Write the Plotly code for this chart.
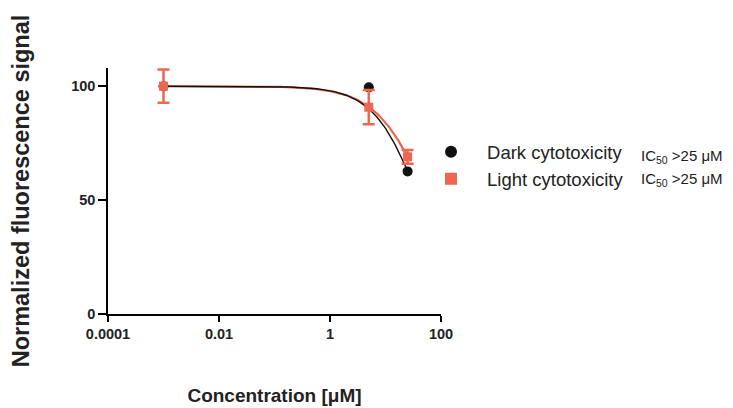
import numpy as np
import plotly.graph_objects as go

# measured points
conc = [0.001, 5, 25]
dark_signal = [100, 99.5, 62.6]
dark_err = [0, 0, 0]
light_signal = [100, 90.8, 69.0]
light_err = [7.3, 7.5, 3.0]

# fitted dose-response parameters
dark_fit = dict(top=100, ic50=41.0, hill=1.05)
light_fit = dict(top=100, ic50=58.5, hill=0.94)

series_names = ["Dark cytotoxicity", "Light cytotoxicity"]
ic50_labels = ["IC<sub>50</sub> >25 \u03bcM", "IC<sub>50</sub> >25 \u03bcM"]

RED = "#EC6650"
BLACK = "#111111"
FONT = "Liberation Sans, Arial, sans-serif"


def hill_curve(x, top, ic50, hill):
    return top / (1 + (x / ic50) ** hill)


x_fit = np.logspace(np.log10(conc[0]), np.log10(conc[-1]), 200)

fig = go.Figure()

fig.add_trace(go.Scatter(
    x=x_fit, y=hill_curve(x_fit, **light_fit), mode="lines",
    line=dict(color=RED, width=2.2), showlegend=False, hoverinfo="skip",
))
fig.add_trace(go.Scatter(
    x=x_fit, y=hill_curve(x_fit, **dark_fit), mode="lines",
    line=dict(color=BLACK, width=1.4), showlegend=False, hoverinfo="skip",
))
fig.add_trace(go.Scatter(
    x=conc, y=dark_signal, mode="markers", name=series_names[0],
    marker=dict(symbol="circle", size=10, color=BLACK),
    error_y=dict(type="data", array=dark_err, visible=False),
))
fig.add_trace(go.Scatter(
    x=conc, y=light_signal, mode="markers", name=series_names[1],
    marker=dict(symbol="square", size=9, color=RED),
    error_y=dict(type="data", array=light_err, color=RED, thickness=2.5, width=6),
))

for i, label in enumerate(ic50_labels):
    fig.add_annotation(
        xref="paper", yref="paper", x=1.595, y=0.64 - i * 0.095,
        text=label, showarrow=False, xanchor="left", yanchor="middle",
        font=dict(size=15, color="#222", family=FONT),
    )

fig.update_layout(
    width=733, height=408,
    margin=dict(l=100, r=300, t=60, b=102),
    paper_bgcolor="white", plot_bgcolor="white",
    font=dict(family=FONT, color="#222"),
    legend=dict(
        x=0.922, y=0.735, xanchor="left", yanchor="top", tracegroupgap=0,
        font=dict(size=18.5, family=FONT, color="#222"),
        bgcolor="rgba(0,0,0,0)", itemsizing="constant", itemwidth=62,
    ),
)
fig.update_xaxes(
    type="log", range=[-4, 2], tickvals=[0.0001, 0.01, 1, 100],
    ticktext=["0.0001", "0.01", "1", "100"], automargin=False,
    showgrid=False, zeroline=False, showline=True, linecolor="black", linewidth=1.5,
    ticks="outside", ticklen=6, tickwidth=1.5, tickcolor="black",
    tickfont=dict(size=14.5, family=FONT, color="#222", weight="bold"),
    title=dict(text="<b>Concentration [\u03bcM]</b>", font=dict(size=19, family=FONT), standoff=48),
)
fig.update_yaxes(
    range=[0, 108], tickvals=[0, 50, 100], automargin=False,
    showgrid=False, zeroline=False, showline=True, linecolor="black", linewidth=1.5,
    ticks="outside", ticklen=8, tickwidth=1.5, tickcolor="black",
    tickfont=dict(size=14.5, family=FONT, color="#222", weight="bold"),
    title=dict(text="<b>Normalized fluorescence signal</b>", font=dict(size=23.5, family=FONT), standoff=37),
)

fig.write_html("out.html")
